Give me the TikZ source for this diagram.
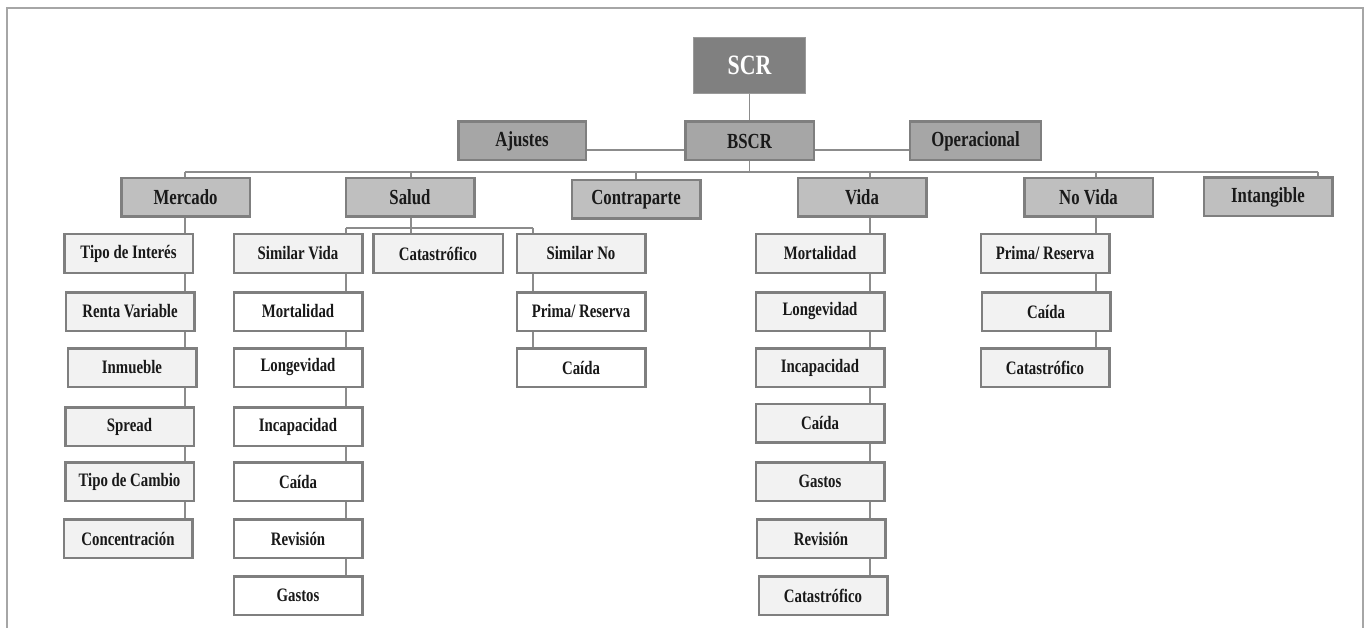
\documentclass[tikz,border=0pt]{standalone}
\usepackage{fontspec}
\newfontfamily\boxfont{Liberation Serif}[FakeStretch=0.78]

\definecolor{scrfill}{HTML}{808080}
\definecolor{scredge}{HTML}{9A9A9A}
\definecolor{onefill}{HTML}{A6A6A6}
\definecolor{twofill}{HTML}{BFBFBF}
\definecolor{leaffill}{HTML}{F2F2F2}
\definecolor{boxedge}{HTML}{7F7F7F}
\definecolor{linkgray}{HTML}{8C8C8C}
\definecolor{framegray}{HTML}{A6A6A6}

\tikzset{
every picture/.style={
line width=1pt
}}

\begin{document}
\begin{tikzpicture}[x=1pt, y=-1pt,
block/.style = {rectangle, draw=boxedge, line width=2.5pt, inner sep=0pt,
  minimum width=128.5pt, minimum height=38.5pt, text=black!90,
  font=\boxfont\bfseries\fontsize{19}{21}\selectfont},
topbox/.style = {rectangle, draw=scredge, line width=1pt, fill=scrfill, text=white,
  minimum width=112pt, minimum height=56pt,
  font=\boxfont\bfseries\fontsize{28}{30}\selectfont},
onebox/.style = {block, fill=onefill, font=\boxfont\bfseries\fontsize{21.5}{23}\selectfont},
twobox/.style = {block, fill=twofill, font=\boxfont\bfseries\fontsize{21.5}{23}\selectfont},
leafbox/.style = {block, fill=leaffill},
whitebox/.style = {block, fill=white},
link/.style = {draw=linkgray, line width=1.2pt}]

\useasboundingbox (0,0) rectangle (1367,628);
\draw[framegray, line width=1.8pt] (7,628) -- (7,8) -- (1363,8) -- (1363,628);

% top levels
\node[topbox] (scr) at (749.5,65.5) {SCR};
\node[onebox] (bscr) at (749.5,141) {BSCR};
\node[onebox, minimum width=127.5pt] (aju) at (522,141) {Ajustes};
\node[onebox, minimum width=131pt] (ope) at (975.5,141) {Operacional};

\node[twobox] (mer) at (185.5,197.5) {Mercado};
\node[twobox] (sal) at (410,197.5) {Salud};
\node[twobox] (con) at (636,199.5) {Contraparte};
\node[twobox] (vid) at (862,197.5) {Vida};
\node[twobox] (nov) at (1088.5,197.5) {No Vida};
\node[twobox] (int) at (1268,197) {Intangible};

% Mercado
\node[leafbox] (mer1) at (128.5,253.5) {Tipo de Interés};
\node[leafbox] (mer2) at (130,311.5) {Renta Variable};
\node[leafbox] (mer3) at (132,367.5) {Inmueble};
\node[leafbox] (mer4) at (129.5,426.5) {Spread};
\node[leafbox] (mer5) at (129.5,481.5) {Tipo de Cambio};
\node[leafbox] (mer6) at (128,538.5) {Concentración};

% Salud
\node[leafbox] (sal1) at (298,253.5) {Similar Vida};
\node[whitebox] (sal2) at (298,311.5) {Mortalidad};
\node[whitebox] (sal3) at (298,367.5) {Longevidad};
\node[whitebox] (sal4) at (298,426.5) {Incapacidad};
\node[whitebox] (sal5) at (298,481.5) {Caída};
\node[whitebox] (sal6) at (298,538.5) {Revisión};
\node[whitebox] (sal7) at (298,595.5) {Gastos};
\node[leafbox, minimum width=129.5pt] (cat) at (438,253.5) {Catastrófico};
\node[leafbox] (sno1) at (581,253.5) {Similar No};
\node[whitebox] (sno2) at (581,311.5) {Prima/ Reserva};
\node[whitebox] (sno3) at (581,367.5) {Caída};

% Vida
\node[leafbox] (vid1) at (820,253.5) {Mortalidad};
\node[leafbox] (vid2) at (820,311.5) {Longevidad};
\node[leafbox] (vid3) at (820,367.5) {Incapacidad};
\node[leafbox] (vid4) at (820,423) {Caída};
\node[leafbox] (vid5) at (820,481.5) {Gastos};
\node[leafbox] (vid6) at (821,538.5) {Revisión};
\node[leafbox] (vid7) at (823,595.5) {Catastrófico};

% No Vida
\node[leafbox] (nov1) at (1045,253.5) {Prima/ Reserva};
\node[leafbox] (nov2) at (1046,311.5) {Caída};
\node[leafbox] (nov3) at (1045,367.5) {Catastrófico};

% connectors
\coordinate (lv) at (749.5,150);
\coordinate (mx) at (185,172); \coordinate (sx) at (411,172);
\coordinate (cx) at (636,172); \coordinate (vx) at (870,172);
\coordinate (nx) at (1096,172); \coordinate (ix) at (1318,172);
\coordinate (sb) at (411,228); \coordinate (svx) at (346,228);
\coordinate (snx) at (533,228);

\draw[link] (scr.south) -- (bscr.north);
\draw[link] (aju.east |- lv) -- (bscr.west |- lv);
\draw[link] (bscr.east |- lv) -- (ope.west |- lv);
\draw[link] (bscr.south) -- (bscr.south |- mx);
\draw[link] (mx) -- (ix);
\draw[link] (mx) -- (mer.north -| mx);
\draw[link] (sx) -- (sal.north -| sx);
\draw[link] (cx) -- (con.north -| cx);
\draw[link] (vx) -- (vid.north -| vx);
\draw[link] (nx) -- (nov.north -| nx);
\draw[link] (ix) -- (int.north -| ix);

\draw[link] (mer.south -| mx) -- (mer1.north -| mx);
\foreach \i in {1,...,5}{
  \pgfmathtruncatemacro\j{\i+1}
  \draw[link] (mer\i.south -| mx) -- (mer\j.north -| mx);
}

\draw[link] (sal.south -| sb) -- (sb);
\draw[link] (svx) -- (snx);
\draw[link] (svx) -- (sal1.north -| svx);
\draw[link] (sb) -- (cat.north -| sb);
\draw[link] (snx) -- (sno1.north -| snx);
\foreach \i in {1,...,6}{
  \pgfmathtruncatemacro\j{\i+1}
  \draw[link] (sal\i.south -| svx) -- (sal\j.north -| svx);
}
\foreach \i in {1,2}{
  \pgfmathtruncatemacro\j{\i+1}
  \draw[link] (sno\i.south -| snx) -- (sno\j.north -| snx);
}

\draw[link] (vid.south -| vx) -- (vid1.north -| vx);
\foreach \i in {1,...,6}{
  \pgfmathtruncatemacro\j{\i+1}
  \draw[link] (vid\i.south -| vx) -- (vid\j.north -| vx);
}

\draw[link] (nov.south -| nx) -- (nov1.north -| nx);
\foreach \i in {1,2}{
  \pgfmathtruncatemacro\j{\i+1}
  \draw[link] (nov\i.south -| nx) -- (nov\j.north -| nx);
}
\end{tikzpicture}
\end{document}
